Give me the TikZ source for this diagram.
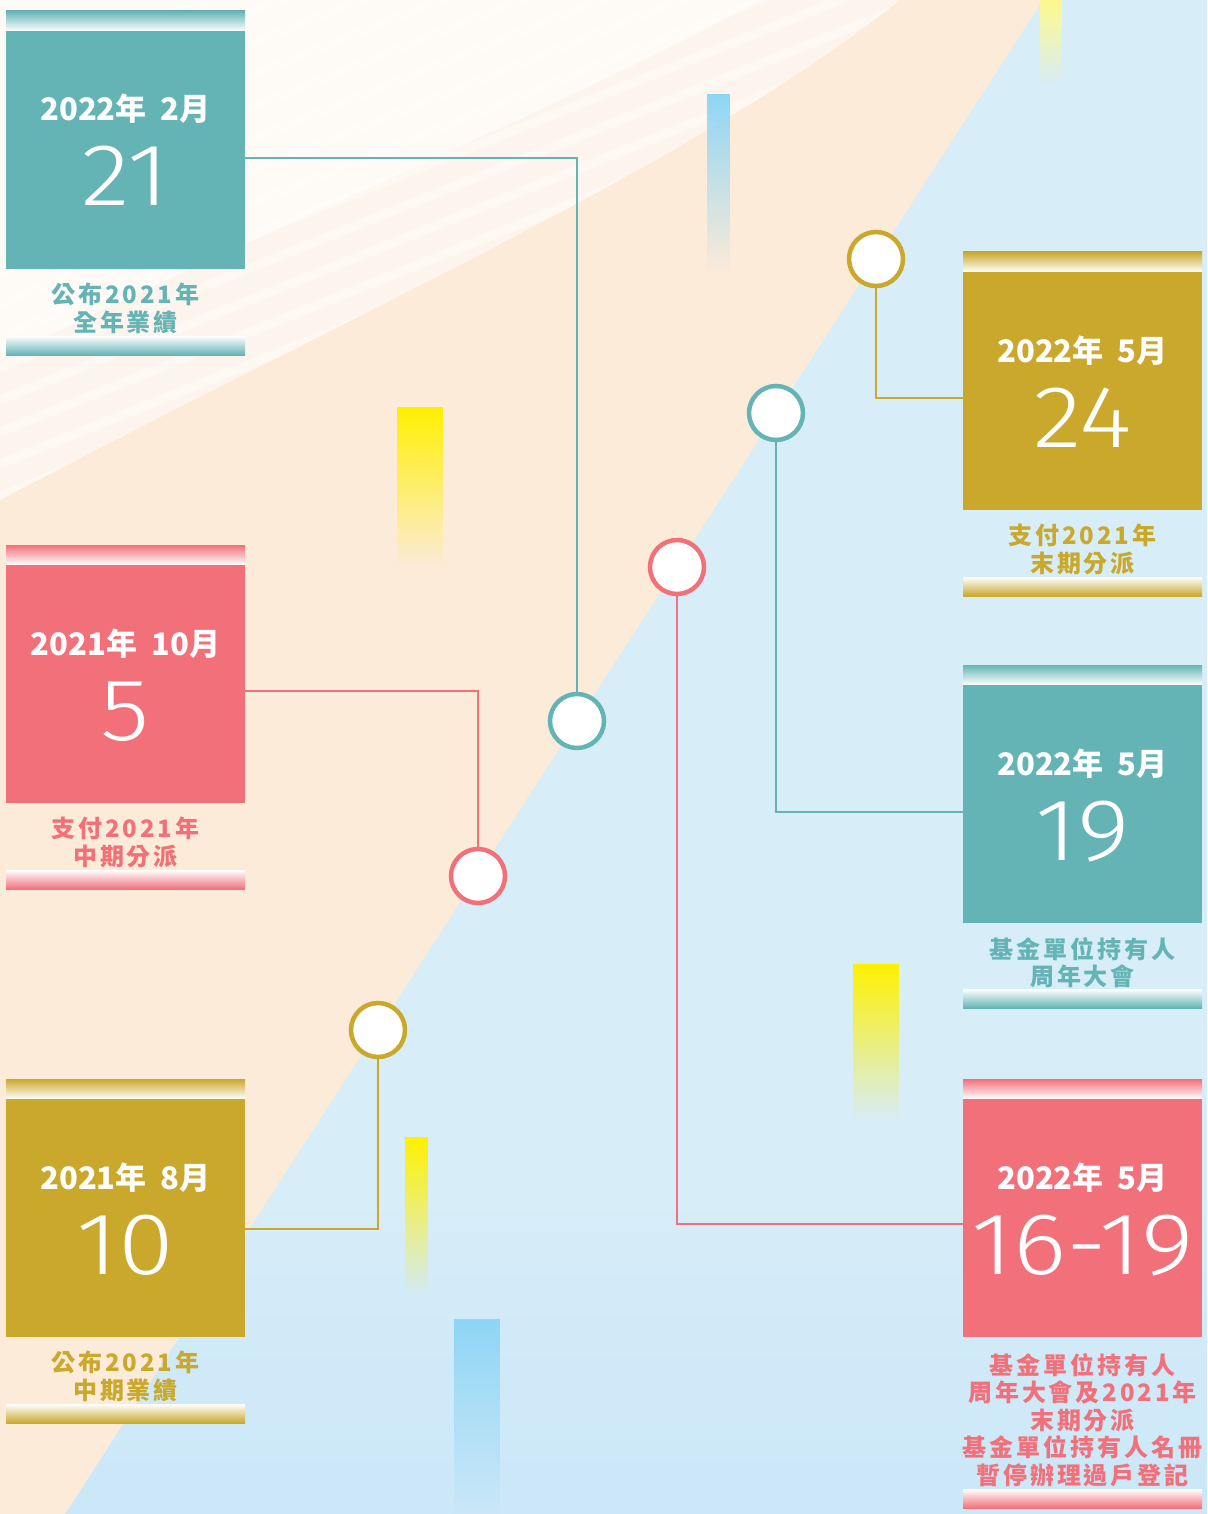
\documentclass[tikz,border=0pt]{standalone}
\usepackage{fontspec}
\usetikzlibrary{fadings}
\newfontfamily\cjkfont{Noto Sans CJK TC}
\newfontfamily\capfont{Noto Sans CJK TC}[LetterSpace=12]
\newfontfamily\numfont{Fira Sans Light}[FakeStretch=1.15]
\definecolor{cteal}{RGB}{100,180,181}
\definecolor{cgold}{RGB}{201,168,44}
\definecolor{cpink}{RGB}{242,112,122}
\definecolor{cpeach}{RGB}{252,235,216}
\definecolor{cbg}{RGB}{215,237,248}
\definecolor{cyel}{RGB}{255,241,0}
\definecolor{cbar}{RGB}{142,213,245}
\tikzfading[name=fadedown, top color=transparent!0, bottom color=transparent!100]
\tikzfading[name=fademid, top color=transparent!100, middle color=transparent!0, bottom color=transparent!100]
\newcommand\mkcard[9]{%
  \shade[top color=#4, bottom color=white] (#2-119.5,#3-20) rectangle (#2+119.5,#3);
  \node[cardbox, fill=#4] (#1) at (#2,#3+119) {};
  \node[titletext, anchor=base] (#1t) at (#2,#3+90) {#5};
  \node[numtext, anchor=base] (#1n) at (#2,#3+175) {#6};
  \node[captext, text=#4] (#1c) at (#2,#3+#8) {#7};
  \shade[top color=white, bottom color=#4] (#2-119.5,#9) rectangle (#2+119.5,#9+19);
}
\begin{document}
\begin{tikzpicture}[x=1pt,y=-1pt,
  cardbox/.style={rectangle, minimum width=239pt, minimum height=238pt, inner sep=0pt, draw=none},
  titletext/.style={text=white, font=\cjkfont\bfseries\fontsize{31}{31}\selectfont, inner sep=0pt},
  numtext/.style={text=white, font=\numfont\fontsize{88}{88}\selectfont, inner sep=0pt},
  captext/.style={align=center, font=\capfont\bfseries\fontsize{24}{27.5}\selectfont, inner sep=0pt},
  dot/.style={circle, minimum size=54pt, inner sep=0pt, fill=white, line width=4.5pt},
  conn/.style={line width=1.3pt},
  gbar/.style={path fading=fadedown}
]
\useasboundingbox (0,0) rectangle (1207,1514);
% background
\fill[cbg] (0,0) rectangle (1207,1514);
\shade[top color=cbg, bottom color={rgb,255:red,200;green,230;blue,248}, opacity=0.8] (0,1200) rectangle (1207,1514);
\fill[cpeach] (0,0) -- (1043,0) -- (65,1514) -- (0,1514) -- cycle;
% white glow top-left
\fill[white, opacity=0.55] (0,0) -- (900,0) .. controls (700,160) and (380,300) .. (0,500) -- cycle;
\fill[white, opacity=0.55] (0,0) -- (760,0) .. controls (560,110) and (260,230) .. (0,360) -- cycle;
\begin{scope}
  \clip (0,0) -- (900,0) .. controls (700,160) and (380,300) .. (0,500) -- cycle;
  \foreach \k in {0,...,14} {
    \draw[white, opacity=0.3, line width=9pt] (0,80+\k*32) -- (1000,-320+\k*32);
  }
\end{scope}
% soft white band along the lower-left edge
\fill[white, opacity=0.35, path fading=fademid] (0,1300) -- (200,1300) -- (80,1514) -- (0,1514) -- cycle;
% right white streaks
\foreach \xx/\ww/\oo in {1050/10/0.35,1085/14/0.4,1120/8/0.45,1145/18/0.5,1172/10/0.55,1190/17/0.6} {
  \fill[white, opacity=\oo, path fading=fademid] (\xx,0) rectangle (\xx+\ww,1514);
}
% decorative gradient bars
\fill[cbar, gbar] (707,94) rectangle (730,272);
\fill[cyel, gbar] (397,407) rectangle (443,565);
\fill[cyel!45!white, gbar] (1040,0) rectangle (1062,85);
\fill[cyel, gbar] (853,964) rectangle (899,1120);
\fill[cyel, gbar] (405,1137) rectangle (428,1295);
\fill[cbar, gbar] (454,1319) rectangle (500,1514);
% cards
\mkcard{L1}{125.5}{31}{cteal}{2022年\hspace{0.45em}2月}{21}{公布2021年\\全年業績}{277.5}{336}
\mkcard{L2}{125.5}{565}{cpink}{2021年\hspace{0.45em}10月}{5}{支付2021年\\中期分派}{277.5}{870}
\mkcard{L3}{125.5}{1099}{cgold}{2021年\hspace{0.45em}8月}{10}{公布2021年\\中期業績}{277.5}{1404}
\mkcard{R1}{1082.5}{272}{cgold}{2022年\hspace{0.45em}5月}{24}{支付2021年\\末期分派}{277.5}{577}
\mkcard{R2}{1082.5}{685}{cteal}{2022年\hspace{0.45em}5月}{19}{基金單位持有人\\周年大會}{277.5}{989}
\mkcard{R3}{1082.5}{1099}{cpink}{2022年\hspace{0.45em}5月}{16-19}{基金單位持有人\\周年大會及2021年\\末期分派\\基金單位持有人名冊\\暫停辦理過戶登記}{321}{1489}
% circles
\node[dot, draw=cgold] (o1) at (876,259) {};
\node[dot, draw=cteal] (o2) at (776,413) {};
\node[dot, draw=cpink] (o3) at (677,567) {};
\node[dot, draw=cteal] (o4) at (577,721) {};
\node[dot, draw=cpink] (o5) at (478,876) {};
\node[dot, draw=cgold] (o6) at (378,1030) {};
% connectors
\draw[conn, cteal] ([yshift=-8pt]L1.east) -| (o4.north);
\draw[conn, cpink] ([yshift=-7pt]L2.east) -| (o5.north);
\draw[conn, cgold] ([yshift=-11pt]L3.east) -| (o6.south);
\draw[conn, cgold] (o1.south) |- ([yshift=-7pt]R1.west);
\draw[conn, cteal] (o2.south) |- ([yshift=-8pt]R2.west);
\draw[conn, cpink] (o3.south) |- ([yshift=-6pt]R3.west);
\end{tikzpicture}
\end{document}
